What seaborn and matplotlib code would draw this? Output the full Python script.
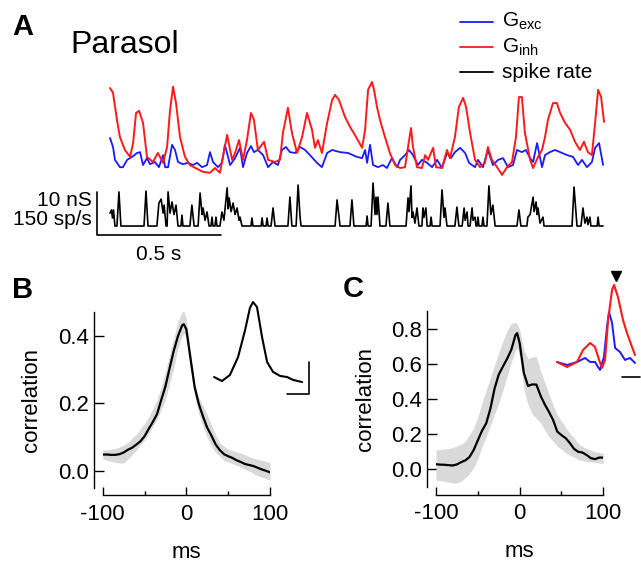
# Parasol cell: conductances, spike rate and correlation panels

import numpy as np
import matplotlib.pyplot as plt
from matplotlib.lines import Line2D
from matplotlib.ticker import FormatStrFormatter, FixedLocator
import seaborn as sns

# ---- data -------------------------------------------------------------
# panel A: time (ms), conductance (nS above trace floor), spike rate (sp/s)
red_t = [0, 12, 28, 40, 60, 81, 93, 105, 117, 133, 149, 173, 193, 214, 230, 242, 254, 266,
         282, 302, 322, 351, 375, 403, 423, 443, 455, 472, 492, 504, 520, 536, 552, 568,
         580, 596, 621, 637, 665, 685, 697, 717, 733, 754, 774, 794, 814, 826, 838, 854,
         875, 895, 907, 923, 947, 967, 987, 1016, 1028, 1040, 1056, 1064, 1076, 1088, 1108,
         1128, 1149, 1169, 1189, 1201, 1213, 1221, 1237, 1257, 1270, 1282, 1302, 1314, 1338,
         1358, 1370, 1390, 1406, 1423, 1435, 1451, 1471, 1491, 1511, 1523, 1539, 1560, 1580,
         1600, 1620, 1636, 1648, 1660, 1672, 1693, 1705, 1725, 1741, 1753, 1765, 1785, 1801,
         1814, 1834, 1854, 1874, 1894, 1910, 1926, 1942, 1955, 1967, 1979, 1991]
red_g = [23.7, 22.6, 16.3, 12.3, 9.3, 7.7, 10.9, 17.9, 18.4, 15.6, 7.7, 6.5, 8.6, 6.3, 10.0,
         18.6, 24.0, 20.2, 12.3, 7.7, 5.8, 4.9, 4.2, 4.0, 5.1, 4.0, 7.7, 12.8, 7.0, 8.6, 11.6,
         7.0, 11.6, 17.9, 16.3, 9.3, 11.2, 7.0, 6.5, 7.0, 13.3, 19.1, 13.3, 8.6, 12.3, 17.9,
         14.0, 9.8, 11.6, 8.6, 15.6, 20.9, 22.1, 20.9, 17.0, 14.7, 12.8, 9.8, 14.0, 23.3, 25.1,
         23.3, 19.3, 16.3, 12.3, 8.6, 5.8, 5.1, 5.3, 10.0, 14.4, 10.0, 5.3, 5.1, 8.1, 7.0, 9.8,
         5.3, 5.1, 9.3, 7.4, 12.3, 19.3, 21.4, 19.3, 13.3, 7.0, 5.3, 6.3, 10.0, 7.0, 5.3, 3.5,
         5.3, 6.5, 12.3, 21.6, 21.6, 13.3, 7.0, 5.1, 7.7, 9.3, 12.3, 16.3, 20.2, 20.2, 17.9,
         15.6, 14.0, 11.2, 9.3, 11.2, 8.8, 8.1, 15.6, 23.3, 21.6, 15.8]

blue_t = [0, 12, 20, 40, 52, 69, 89, 109, 121, 133, 149, 161, 181, 197, 214, 222, 234, 250,
          262, 274, 294, 314, 334, 351, 371, 391, 403, 415, 435, 451, 463, 484, 504, 524, 536,
          552, 568, 580, 596, 617, 637, 657, 677, 693, 709, 725, 746, 766, 786, 806, 834, 854,
          875, 895, 927, 959, 995, 1016, 1028, 1036, 1048, 1060, 1080, 1100, 1116, 1136, 1157,
          1169, 1189, 1205, 1221, 1241, 1257, 1278, 1298, 1318, 1338, 1358, 1374, 1390, 1411,
          1431, 1447, 1471, 1483, 1503, 1523, 1543, 1564, 1584, 1604, 1624, 1640, 1660, 1676,
          1693, 1705, 1721, 1741, 1753, 1773, 1793, 1814, 1842, 1866, 1886, 1902, 1922, 1942,
          1955, 1971, 1987]
blue_g = [12.1, 10.0, 7.0, 5.3, 5.3, 7.0, 7.7, 8.6, 8.8, 5.8, 7.4, 6.0, 6.5, 5.3, 8.1, 5.3,
          5.3, 10.5, 9.3, 6.5, 6.0, 6.3, 5.8, 6.3, 5.3, 5.8, 8.8, 6.5, 5.3, 6.3, 10.5, 5.8, 7.4,
          9.8, 5.3, 8.6, 10.2, 8.8, 9.3, 8.1, 5.3, 6.5, 5.8, 9.3, 10.0, 8.8, 8.6, 10.0, 9.3, 8.1,
          6.3, 5.3, 8.6, 9.3, 8.8, 8.6, 7.7, 7.4, 9.3, 6.3, 10.5, 5.8, 5.3, 5.8, 5.1, 7.4, 5.3,
          7.0, 8.1, 9.3, 8.1, 5.8, 7.0, 6.3, 5.3, 7.0, 5.1, 8.6, 7.4, 8.8, 9.8, 8.6, 6.3, 5.3,
          7.0, 5.3, 9.3, 5.8, 7.0, 7.4, 5.3, 5.8, 9.3, 8.8, 9.3, 7.4, 6.5, 10.9, 5.3, 8.1, 8.8,
          9.3, 8.8, 8.1, 7.7, 5.8, 7.0, 5.3, 6.5, 9.8, 10.9, 5.8]

spike_t = [0, 6, 10, 14, 20, 28, 36, 44, 137, 145, 153, 189, 197, 206, 214, 218, 226, 230,
           234, 242, 250, 258, 266, 274, 286, 290, 294, 322, 330, 339, 355, 363, 371, 375, 383,
           391, 399, 407, 411, 415, 423, 427, 431, 443, 451, 459, 472, 476, 480, 488, 496, 504,
           512, 520, 524, 532, 568, 572, 576, 609, 613, 617, 629, 633, 637, 649, 657, 665, 717,
           725, 733, 750, 758, 766, 770, 907, 915, 923, 927, 967, 975, 983, 1032, 1036, 1040,
           1052, 1060, 1068, 1072, 1076, 1080, 1088, 1112, 1120, 1128, 1193, 1201, 1205, 1213,
           1217, 1221, 1229, 1237, 1245, 1257, 1261, 1265, 1273, 1278, 1290, 1294, 1298, 1330,
           1338, 1346, 1350, 1358, 1390, 1398, 1406, 1419, 1427, 1431, 1439, 1443, 1451, 1459,
           1463, 1471, 1475, 1479, 1483, 1487, 1499, 1503, 1507, 1519, 1527, 1535, 1543, 1552,
           1640, 1648, 1656, 1680, 1684, 1693, 1705, 1709, 1717, 1721, 1725, 1733, 1745, 1749,
           1862, 1870, 1882, 1898, 1906, 1914, 1922, 1926, 1934, 1938, 1963, 1967, 1971, 1987]
spike_rate = [45, 56, 28, 56, 0, 0, 119, 0, 0, 122, 0, 0, 80, 94, 45, 73, 0, 0,
              119, 45, 84, 40, 73, 0, 0, 38, 0, 0, 73, 0, 0, 115, 40, 63, 20,
              49, 0, 0, 31, 0, 0, 31, 0, 0, 49, 20, 133, 60, 98, 50, 80, 40,
              63, 20, 31, 0, 0, 28, 0, 0, 28, 0, 0, 28, 0, 0, 63, 0, 0,
              101, 0, 0, 143, 30, 0, 0, 91, 30, 0, 0, 91, 0, 0, 35, 0,
              0, 150, 40, 101, 40, 101, 0, 0, 80, 0, 0, 98, 50, 140,
              30, 49, 10, 63, 0, 0, 63, 30, 63, 0, 0, 31, 0, 0,
              126, 30, 63, 0, 0, 66, 0, 0, 63, 20, 49, 0, 0, 63,
              20, 31, 0, 0, 31, 0, 0, 31, 0, 0, 140, 40, 73, 0,
              0, 56, 0, 0, 31, 40, 101, 50, 84, 40, 63, 10, 31, 0,
              0, 136, 0, 0, 63, 10, 31, 5, 31, 0, 0, 31, 0, 0]

# panels B and C: lag (ms), mean correlation and band
lags = [-100, -95, -90, -85, -80, -75, -70, -65, -60, -55, -50, -45, -40, -35, -30, -25,
        -20, -15, -10, -5, -3, 0, 5, 10, 15, 20, 25, 30, 35, 40, 45, 50, 55, 60, 65, 70,
        75, 80, 85, 90, 95, 100]
b_mean = [.048, .048, .047, .047, .049, .054, .062, .068, .077, .087, .102, .124, .145, .168,
          .21, .25, .304, .356, .399, .431, .434, .419, .332, .247, .197, .16, .127, .104,
          .078, .061, .049, .043, .038, .031, .026, .020, .017, .014, .009, .004, 0.0, -.005]
b_hi = [.061, .062, .064, .066, .07, .076, .084, .096, .107, .124, .14, .16, .184, .21, .25,
        .293, .344, .392, .443, .471, .473, .45, .35, .257, .217, .191, .165, .135, .106,
        .083, .072, .064, .06, .056, .052, .047, .042, .037, .034, .031, .028, .024]
b_lo = [.035, .031, .028, .025, .023, .023, .034, .047, .06, .076, .091, .11, .132, .152,
        .183, .211, .258, .305, .363, .40, .407, .392, .302, .22, .167, .13, .098, .073,
        .053, .043, .031, .026, .021, .016, .011, .004, -.001, -.008, -.014, -.019, -.023, -.028]
c_mean = [.029, .027, .026, .024, .022, .028, .041, .051, .07, .11, .165, .22, .262, .345,
          .46, .54, .586, .63, .681, .765, .776, .72, .55, .475, .484, .483, .42, .37, .328,
          .281, .215, .195, .178, .15, .117, .10, .096, .082, .064, .058, .067, .067]
c_hi = [.11, .113, .116, .119, .124, .133, .143, .16, .196, .235, .30, .378, .452, .52, .595,
        .665, .73, .79, .833, .837, .83, .795, .68, .63, .64, .642, .56, .495, .43, .367, .31,
        .275, .24, .205, .18, .147, .131, .119, .11, .10, .096, .091]
c_lo = [-.061, -.065, -.068, -.073, -.077, -.079, -.067, -.048, -.025, .01, .06, .13, .186,
        .252, .314, .376, .452, .53, .61, .68, .69, .643, .455, .37, .315, .29, .265, .224,
        .186, .16, .132, .115, .094, .08, .07, .055, .05, .045, .042, .039, .036, .034]

# inset B (ms, correlation)
inb_t = [-17.7, -14.1, -10.5, -6.8, -3.6, -1.4, 0, 1.8, 4.1, 6.4, 9.1, 12.3, 15.5, 18.2, 22.3]
inb_v = [.106, .081, .119, .231, .40, .538, .575, .544, .356, .20, .138, .113, .106, .088, .075]

# inset C (ms, normalised conductance)
inc_t_red = [-26.7, -21.1, -15.6, -12.2, -8.3, -5.6, -3.3, -1.7, 0, 1.7, 3.9, 5.0, 7.2, 10,
             12.2, 15, 16.7]
inc_red = [.094, .035, .094, .235, .318, .271, .118, .024, .118, .588, .941, 1.0, .859,
           .588, .435, .271, .176]
inc_t_blue = [-26.7, -21.1, -15.6, -11.1, -8.3, -5.6, -2.8, -0.6, 1.1, 2.2, 3.9, 5.6, 8.3,
              11.1, 13.9, 16.7]
inc_blue = [.094, .059, .094, .141, .094, .094, 0.0, .153, .506, .682, .553, .259, .212,
            .118, .141, .082]

BLUE = "#1a1aff"
RED = "#ff1a1a"
GREY = "#d9d9d9"

# ---- style --------------------------------------------------------------
sns.set_theme(style="white")
plt.rcParams["font.family"] = ["Liberation Sans", "DejaVu Sans"]
plt.rcParams["axes.unicode_minus"] = False
plt.rcParams["mathtext.fontset"] = "custom"
plt.rcParams["mathtext.rm"] = "Liberation Sans"
plt.rcParams["mathtext.it"] = "Liberation Sans"
for key in ("text.color", "axes.labelcolor", "xtick.color", "ytick.color", "axes.edgecolor"):
    plt.rcParams[key] = "black"

W, H = 641, 562
fig = plt.figure(figsize=(W / 100, H / 100), dpi=100)


def add_px_axes(x0, y0, w, h):
    return fig.add_axes([x0 / W, 1 - (y0 + h) / H, w / W, h / H])


# ---- panel A -------------------------------------------------------------
G_OFFSET = 10.47
SPIKE_OFFSET = 2.09
SPIKE_SCALE = 10 / 150

axA = add_px_axes(95, 78, 516, 162)
sns.lineplot(x=blue_t, y=np.array(blue_g) + G_OFFSET, ax=axA, color=BLUE, lw=1.3,
             estimator=None, sort=False)
sns.lineplot(x=red_t, y=np.array(red_g) + G_OFFSET, ax=axA, color=RED, lw=1.4,
             estimator=None, sort=False)
sns.lineplot(x=spike_t, y=np.array(spike_rate) * SPIKE_SCALE + SPIKE_OFFSET, ax=axA,
             color="black", lw=1.2, estimator=None, sort=False)
# scale bars: 10 nS / 150 sp/s and 0.5 s
axA.plot([-52, -52, 448], [10, 0, 0], color="black", lw=1.2)
axA.set_xlim(-60.5, 2019)
axA.set_ylim(-1.16, 36.5)
axA.axis("off")

fig.text(92 / W, 1 - 206 / H, "10 nS", ha="right", va="baseline", fontsize=15)
fig.text(92 / W, 1 - 225 / H, "150 sp/s", ha="right", va="baseline", fontsize=15)
fig.text(159 / W, 1 - 260 / H, "0.5 s", ha="center", va="baseline", fontsize=15)

fig.text(12 / W, 1 - 35 / H, "A", fontsize=21, fontweight="bold", va="baseline")
fig.text(70 / W, 1 - 53 / H, "Parasol", fontsize=23, va="baseline")

legend_items = [(r"G$_{\mathregular{exc}}$", BLUE), (r"G$_{\mathregular{inh}}$", RED),
                ("spike rate", "black")]
for i, (lab, col) in enumerate(legend_items):
    yl = 21.7 + 25.3 * i
    fig.add_artist(Line2D([460 / W, 493 / W], [1 - yl / H, 1 - yl / H], color=col, lw=1.3,
                          transform=fig.transFigure))
    fig.text(502 / W, 1 - (yl + 5.5) / H, lab, fontsize=15, va="baseline")


# ---- panels B and C --------------------------------------------------------
def corr_panel(ax, mean, lo, hi, ylim, yticks):
    ax.fill_between(lags, lo, hi, color=GREY, lw=0)
    sns.lineplot(x=lags, y=mean, ax=ax, color="black", lw=1.6, estimator=None)
    ax.set_xlim(-100, 100)
    ax.set_ylim(*ylim)
    ax.set_yticks(yticks)
    ax.yaxis.set_major_formatter(FormatStrFormatter("%.1f"))
    ax.set_xticks([-100, 0, 100])
    ax.xaxis.set_minor_locator(FixedLocator([-50, 50]))
    sns.despine(ax=ax, offset={"left": 6.3, "bottom": 5.5})
    for s in ("left", "bottom"):
        ax.spines[s].set_color("black")
        ax.spines[s].set_linewidth(1.0)
    ax.tick_params(axis="y", direction="in", length=7, width=1, pad=3.5, labelsize=16,
                   color="black", left=True)
    ax.tick_params(axis="x", which="major", direction="in", length=6, width=1, pad=6,
                   labelsize=16, color="black", bottom=True)
    ax.tick_params(axis="x", which="minor", direction="in", length=3, width=1,
                   color="black", bottom=True)
    ax.set_xlabel("ms", fontsize=16)
    ax.set_ylabel("correlation", fontsize=16)
    ax.xaxis.set_label_coords(0.5, -0.31)
    ax.yaxis.set_label_coords(-0.36, 0.5)
    ax.patch.set_alpha(0)


axB = add_px_axes(102.7, 312.1, 167.3, 175.5)
corr_panel(axB, b_mean, b_lo, b_hi, (-0.05, 0.47), [0.0, 0.2, 0.4])

axC = add_px_axes(436, 311.4, 167.3, 175.5)
corr_panel(axC, c_mean, c_lo, c_hi, (-0.1, 0.9), [0.0, 0.2, 0.4, 0.6, 0.8])

fig.text(12 / W, 1 - 298 / H, "B", fontsize=21, fontweight="bold", va="baseline")
fig.text(343 / W, 1 - 297 / H, "C", fontsize=21, fontweight="bold", va="baseline")

# inset B
axBi = add_px_axes(210, 295, 102, 105)
sns.lineplot(x=inb_t, y=inb_v, ax=axBi, color="black", lw=1.5, estimator=None)
axBi.plot([15.5, 25.5, 25.5], [0, 0, 0.2], color="black", lw=1.2)
axBi.set_xlim(-19.55, 26.8)
axBi.set_ylim(-0.0375, 0.619)
axBi.axis("off")

# inset C
axCi = add_px_axes(550, 265, 91, 115)
sns.lineplot(x=inc_t_blue, y=inc_blue, ax=axCi, color=BLUE, lw=1.4, estimator=None)
sns.lineplot(x=inc_t_red, y=inc_red, ax=axCi, color=RED, lw=1.5, estimator=None)
axCi.plot([9.4, 19.4], [-0.082, -0.082], color="black", lw=1.2)
axCi.plot([6.1], [1.11], marker="v", color="black", markersize=7, clip_on=False)
axCi.set_xlim(-30.6, 20.0)
axCi.set_ylim(-0.118, 1.235)
axCi.axis("off")

fig.savefig("out.png", dpi=100)
